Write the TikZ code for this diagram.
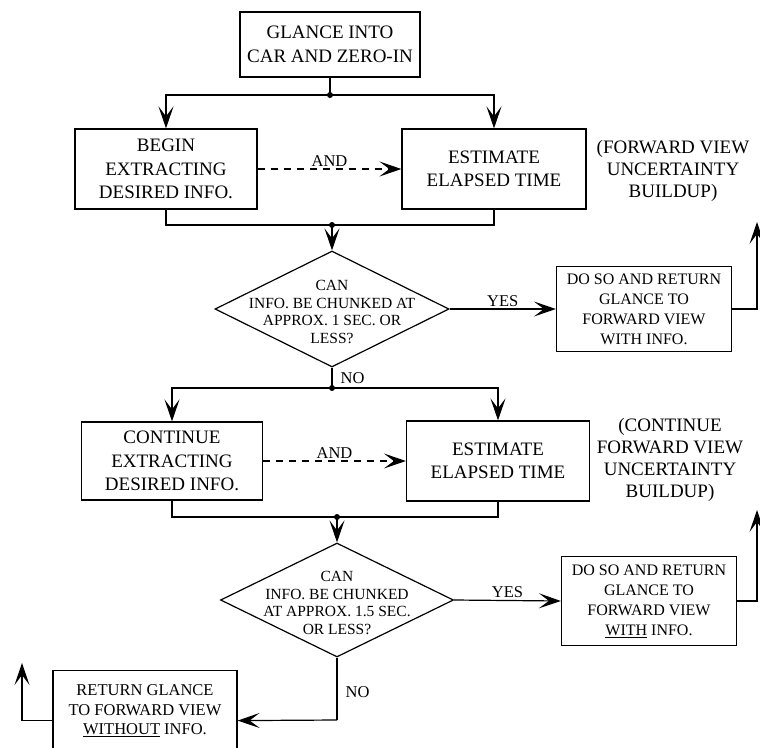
\documentclass[tikz,border=0pt]{standalone}
\usepackage{fontspec}
\setmainfont{Liberation Serif}
\usetikzlibrary{arrows.meta,shapes.geometric}
\begin{document}
\begin{tikzpicture}[x=1pt,y=-1pt,
  line width=1.2pt,
  arr/.style={-{Stealth[length=22pt,width=15pt,inset=10pt]}},
  dashline/.style={dash pattern=on 7pt off 6pt},
  box/.style={draw,rectangle,inner sep=0pt,align=center},
  dia/.style={draw,diamond,inner sep=0pt,minimum width=234pt,minimum height=116pt},
  bigtxt/.style={font=\fontsize{19}{23.5}\selectfont},
  dtxt/.style={align=center,inner sep=0pt,font=\fontsize{15.5}{17.5}\selectfont},
  medtxt/.style={font=\fontsize{16}{20}\selectfont},
  sidetxt/.style={align=center,inner sep=0pt,font=\fontsize{19}{22}\selectfont},
  rettxt/.style={align=center,inner sep=0pt,font=\fontsize{16.5}{19.5}\selectfont},
  lbl/.style={inner sep=2pt,font=\fontsize{16.5}{19}\selectfont},
  dot/.style={circle,fill,inner sep=0pt,minimum size=6pt}
]
\useasboundingbox (0,0) rectangle (760,747);
\clip (0,0) rectangle (760,747);

% top box
\node[box,bigtxt,minimum width=180pt,minimum height=65pt] (top) at (330,44.5) {GLANCE INTO\\CAR AND ZERO-IN};

% row 1
\node[box,bigtxt,minimum width=182pt,minimum height=80pt] (b1L) at (166,169) {BEGIN\\EXTRACTING\\DESIRED INFO.};
\node[box,bigtxt,minimum width=184pt,minimum height=80pt] (b1R) at (494,169) {ESTIMATE\\ELAPSED TIME};
\node[sidetxt] (fv1) at (673,171) {(FORWARD VIEW\\UNCERTAINTY\\BUILDUP)};

\coordinate (s1) at (330,95);
\draw (top.south) -- (s1);
\draw[arr] (s1) -| (b1L.north);
\draw[arr] (s1) -| (b1R.north);
\node[dot] (s1d) at (s1) {};

\draw[arr,dashline] (b1L.east) -- node[above,lbl] (and1) {AND} (b1R.west);

% decision 1
\node[dia] (d1) at (332,309) {};
\node[dtxt] (d1t) at (332,312) {CAN\\INFO. BE CHUNKED AT\\APPROX. 1 SEC. OR\\LESS?};
\coordinate (j1) at (332,225);
\draw (b1L.south) |- (j1) -| (b1R.south);
\draw[arr] (j1) -- (d1.north);
\node[dot] (j1d) at (j1) {};

\node[box,medtxt,minimum width=175pt,minimum height=85pt] (r1) at (644,309) {DO SO AND RETURN\\GLANCE TO\\FORWARD VIEW\\WITH INFO.};
\draw[arr] (d1.east) -- node[above,lbl] (yes1) {YES} (r1.west);
\coordinate (e1) at (757,222);
\draw[arr] (r1.east) -| (e1);

% row 2
\coordinate (s2) at (332,388);
\draw (d1.south) -- node[right,lbl,xshift=6pt] (no1) {NO} (s2);
\node[box,bigtxt,minimum width=181pt,minimum height=78pt] (b2L) at (172,461) {CONTINUE\\EXTRACTING\\DESIRED INFO.};
\node[box,bigtxt,minimum width=183pt,minimum height=80pt] (b2R) at (498,461) {ESTIMATE\\ELAPSED TIME};
\node[sidetxt] (fv2) at (670,460) {(CONTINUE\\FORWARD VIEW\\UNCERTAINTY\\BUILDUP)};
\draw[arr] (s2) -| (b2L.north);
\draw[arr] (s2) -| (b2R.north);
\node[dot] (s2d) at (s2) {};
\draw[arr,dashline] (b2L.east) -- node[above,lbl] (and2) {AND} (b2R.west);

% decision 2
\node[dia,minimum width=233pt,minimum height=114pt] (d2) at (337,600) {};
\node[dtxt] (d2t) at (337,603) {CAN\\INFO. BE CHUNKED\\AT APPROX. 1.5 SEC.\\OR LESS?};
\coordinate (j2) at (337,517);
\draw (b2L.south) |- (j2) -| (b2R.south);
\draw[arr] (j2) -- (d2.north);
\node[dot] (j2d) at (j2) {};

\node[box,medtxt,minimum width=175pt,minimum height=89pt] (r2) at (649,601) {DO SO AND RETURN\\GLANCE TO\\FORWARD VIEW\\\underline{WITH} INFO.};
\draw[arr] (d2.east) -- node[above,lbl] (yes2) {YES} (r2.west);
\coordinate (e2) at (757,510);
\draw[arr] (r2.east) -| (e2);

% no branch 2
\node[box,minimum width=184pt,minimum height=100pt,anchor=north] (ret) at (145,670) {};
\node[rettxt] (rett) at (145,711) {RETURN GLANCE\\TO FORWARD VIEW\\\underline{WITHOUT} INFO.};
\coordinate (n2) at (337,720);
\draw (d2.south) -- node[right,lbl,xshift=6pt,pos=0.55] (no2) {NO} (n2);
\draw[arr] (n2) -- (ret.east);
\coordinate (e3) at (22,663);
\draw[arr] (ret.west) -| (e3);
\end{tikzpicture}
\end{document}
